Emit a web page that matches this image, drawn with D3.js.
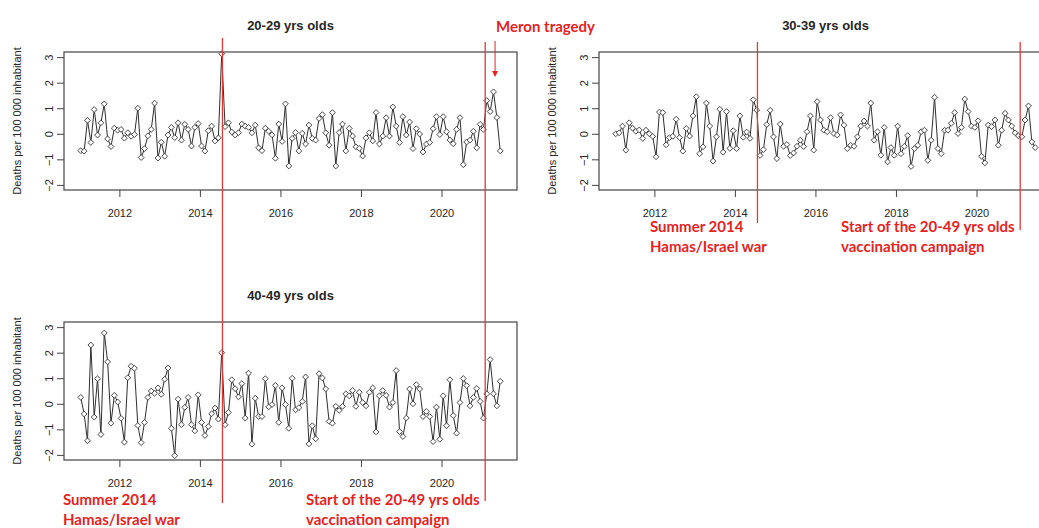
<!DOCTYPE html>
<html>
<head>
<meta charset="utf-8">
<script src="https://cdn.jsdelivr.net/npm/d3@7"></script>
<style>
    body { margin: 0; background: #fff; }
    svg text { font-family: "Liberation Sans", Arial, sans-serif; fill: #262626; }
    svg text.note { font-family: Lato, "Open Sans", sans-serif; font-weight: 700; font-size: 15px; fill: #e5231f; }
</style>
</head>
<body>
<div id="chart"></div>
<script>

// monthly series, Jan 2011 -> Jun 2021 (deaths per 100 000, centred)
const startYear = 2011;

const age2029 = [
    -0.66, -0.68, 0.53, -0.34, 0.95, -0.05, 0.43, 1.17, -0.2, -0.5,
    0.22, 0.14, 0.17, -0.17, 0.04, -0.1, -0.03, 1.0, -0.93, -0.58,
    -0.08, 0.17, 1.2, -0.95, -0.33, -0.88, -0.05, 0.25, -0.15, 0.43,
    -0.25, 0.37, 0.17, -0.48, 0.25, 0.4, -0.48, -0.68, 0.12, 0.3,
    -0.28, -0.16, 3.13, 0.28, 0.43, 0.07, -0.05, 0.04, 0.38, 0.3,
    0.25, 0.04, 0.34, -0.55, -0.66, 0.22, 0.1, -0.04, -0.96, 0.38,
    -0.3, 1.17, -1.26, -0.18, 0.05, -0.67, 0.02, -0.4, 0.34, -0.18,
    -0.25, 0.6, 0.75, 0.04, -0.45, 0.83, -1.26, 0.05, 0.38, -0.67,
    0.21, -0.09, -0.51, -0.57, -0.87, -0.16, 0.04, -0.28, 0.83, -0.4,
    -0.09, 0.63, -0.09, 1.05, 0.3, -0.34, 0.67, -0.05, 0.46, -0.58,
    0.2, -0.01, -0.71, -0.4, -0.34, 0.2, 0.67, -0.03, 0.67, 0.08,
    -0.24, -0.39, 0.17, 0.63, -1.21, -0.32, -0.25, 0.1, -0.55, 0.37,
    0.17, 1.3, 0.87, 1.64, 0.64, -0.67
];

const age3039 = [
    0.0, 0.04, 0.3, -0.64, 0.43, 0.22, 0.1, 0.15, -0.18, 0.14,
    0.0, -0.1, -0.9, 0.85, 0.83, -0.43, -0.15, -0.1, 0.57, -0.15,
    -0.68, 0.21, -0.09, 0.7, 1.45, -0.78, -0.51, 1.2, 0.3, -1.07,
    -0.12, 0.96, -0.72, 0.87, -0.57, 0.12, -0.58, 0.7, -0.14, 0.07,
    -0.18, 1.33, 0.93, -0.85, -0.62, 0.36, 0.92, -0.12, -0.97, 0.38,
    -0.49, -0.42, -0.85, -0.75, -0.49, -0.25, -0.5, 0.08, 0.7, -0.64,
    1.26, 0.54, 0.14, 0.08, 0.63, 0.01, -0.05, 0.74, 0.34, -0.58,
    -0.45, -0.49, -0.12, 0.3, 0.5, 0.3, 1.2, -0.25, 0.08, -0.84,
    0.25, -1.1, -0.54, -0.84, 0.3, -0.78, -0.49, -0.07, -1.28, -0.58,
    -0.45, 0.08, 0.14, -1.04, -0.25, 1.43, -0.58, -0.78, 0.14, 0.14,
    0.41, 0.83, 0.01, 0.25, 1.36, 0.87, 0.3, 0.25, 0.51, -0.88,
    -1.14, 0.34, 0.28, 0.54, -0.45, 0.14, 0.8, 0.54, 0.3, 0.04,
    -0.08, -0.12, 0.54, 1.09, -0.32, -0.54
];

const age4049 = [
    0.25, -0.4, -1.45, 2.3, -0.52, 0.98, -1.2, 2.77, 1.64, -0.76,
    0.33, 0.07, -0.57, -1.5, 1.02, 1.47, 1.39, -0.85, -1.52, -0.73,
    0.25, 0.5, 0.41, 0.62, 0.37, 0.96, 1.4, -0.96, -2.03, 0.18,
    -0.82, -0.14, 0.25, -0.82, -1.06, 0.35, -0.73, -1.24, -0.89, -0.39,
    -0.17, -0.6, 2.0, -0.82, -0.34, 0.94, 0.59, 0.27, 0.79, -0.56,
    1.2, -1.58, 0.22, -0.5, -0.5, 0.98, -0.12, -0.03, 0.72, -0.73,
    0.62, -0.03, -0.96, 1.0, -0.24, -0.15, 0.09, 1.05, -1.57, -0.86,
    -1.37, 1.18, 1.01, 0.58, -0.69, -0.76, -0.1, -0.26, -0.1, 0.39,
    0.31, 0.52, -0.1, 0.45, 0.05, -0.08, 0.45, 0.62, -1.1, 0.31,
    0.52, 0.33, -0.13, 0.05, 1.3, -1.09, -1.28, -0.56, 0.58, 0.0,
    0.75, 0.58, -0.5, -0.3, -0.5, -1.48, -0.13, -1.39, 0.31, -0.86,
    0.94, -0.46, -1.15, 0.05, 0.99, 0.71, -0.08, 0.25, 0.6, 0.09,
    -0.56, 0.39, 1.73, 0.39, -0.08, 0.88
];

const titles = ["20-29 yrs olds", "30-39 yrs olds", "40-49 yrs olds"];
const yTicks = [-2, -1, 0, 1, 2, 3];
const xTicks = [2012, 2014, 2016, 2018, 2020];
const eventYears = [2014.56, 2021.085];   // summer 2014 war, start of vaccination
const meronYear = 2021.33;
const yLabel = "Deaths per 100 000 inhabitant";

// layout
const W = 1039, H = 528;
const boxW = 453, boxH = 138;
const panels = [
    { title: titles[0], values: age2029, left: 64,  top: 52 },
    { title: titles[1], values: age3039, left: 599, top: 52 },
    { title: titles[2], values: age4049, left: 64,  top: 322 }
];

const red = "#e5231f";
const lineRed = "#dc3b3b";

const svg = d3.select("#chart").append("svg")
    .attr("width", W)
    .attr("height", H);

const diamond = "M0,-2.9L2.9,0L0,2.9L-2.9,0Z";

panels.forEach(p => {
    p.x = d3.scaleLinear().domain([2010.625, 2021.875]).range([p.left, p.left + boxW]);
    p.y = d3.scaleLinear().domain([-2.2, 3.2]).range([p.top + boxH, p.top]);

    let g = svg.append("g");
    let pts = p.values.map((v, i) => ({ t: startYear + (i + 0.5) / 12, v: v }));

    // series line + markers
    g.append("path")
        .datum(pts)
        .attr("fill", "none")
        .attr("stroke", "#2e2e2e")
        .attr("stroke-width", 1)
        .attr("d", d3.line().x(d => p.x(d.t)).y(d => p.y(d.v)));

    g.selectAll(".pt")
        .data(pts)
        .join("path")
        .attr("class", "pt")
        .attr("d", diamond)
        .attr("transform", d => "translate(" + p.x(d.t) + "," + p.y(d.v) + ")")
        .attr("fill", "#fff")
        .attr("stroke", "#333")
        .attr("stroke-width", 0.9);

    // box
    g.append("rect")
        .attr("x", p.left)
        .attr("y", p.top)
        .attr("width", boxW)
        .attr("height", boxH)
        .attr("fill", "none")
        .attr("stroke", "#444")
        .attr("stroke-width", 1.2);

    // y axis, R style (labels parallel to axis)
    let yAxis = g.append("g")
        .attr("transform", "translate(" + p.left + ",0)")
        .call(d3.axisLeft(p.y).tickValues(yTicks).tickSize(7).tickSizeOuter(0)
            .tickFormat(d3.format("d")));
    yAxis.select(".domain").remove();
    yAxis.selectAll("line").attr("stroke", "#444");
    yAxis.selectAll("text")
        .attr("x", null).attr("dy", null)
        .attr("text-anchor", "middle")
        .attr("transform", "translate(-11,0) rotate(-90)")
        .style("font-size", "11px")
        .attr("fill", "#262626");

    // x axis
    let xAxis = g.append("g")
        .attr("transform", "translate(0," + (p.top + boxH) + ")")
        .call(d3.axisBottom(p.x).tickValues(xTicks).tickSize(7).tickSizeOuter(0)
            .tickPadding(12).tickFormat(d3.format("d")));
    xAxis.select(".domain").remove();
    xAxis.selectAll("line").attr("stroke", "#444");
    xAxis.selectAll("text")
        .style("font-size", "11px")
        .attr("fill", "#262626");

    g.append("text")
        .attr("transform", "translate(" + (p.left - 43) + "," + (p.top + boxH / 2) + ") rotate(-90)")
        .attr("text-anchor", "middle")
        .style("font-size", "11px")
        .text(yLabel);

    g.append("text")
        .attr("x", p.left + boxW / 2)
        .attr("y", p.top - 22)
        .attr("text-anchor", "middle")
        .style("font-size", "13px")
        .style("font-weight", "bold")
        .attr("fill", "#111")
        .text(p.title);
});

// event lines: left column spans both the 20-29 and 40-49 panels
let pL = panels[0], pR = panels[1];
let evSpans = [[38, 503], [42, 501]];
eventYears.forEach((ev, i) => {
    svg.append("line")
        .attr("x1", pL.x(ev)).attr("x2", pL.x(ev))
        .attr("y1", evSpans[i][0]).attr("y2", evSpans[i][1])
        .attr("stroke", lineRed).attr("stroke-width", 1.3);
    svg.append("line")
        .attr("x1", pR.x(ev)).attr("x2", pR.x(ev))
        .attr("y1", 42).attr("y2", i === 0 ? 223 : 230)
        .attr("stroke", lineRed).attr("stroke-width", 1.3);
});

// Meron arrow
let ax = pL.x(meronYear);
svg.append("line")
    .attr("x1", ax).attr("x2", ax)
    .attr("y1", 41).attr("y2", 72)
    .attr("stroke", lineRed).attr("stroke-width", 1.1);
svg.append("path")
    .attr("d", "M" + (ax - 3) + ",71L" + (ax + 3) + ",71L" + ax + ",77Z")
    .attr("fill", red);

// annotations
const notes = [
    { text: "Meron tragedy", x: 496, y: 32 },
    { text: "Summer 2014", x: 650, y: 232 },
    { text: "Hamas/Israel war", x: 650, y: 252 },
    { text: "Start of the 20-49 yrs olds", x: 841, y: 232 },
    { text: "vaccination campaign", x: 841, y: 252 },
    { text: "Summer 2014", x: 63, y: 505 },
    { text: "Hamas/Israel war", x: 63, y: 525 },
    { text: "Start of the 20-49 yrs olds", x: 306, y: 505 },
    { text: "vaccination campaign", x: 306, y: 525 }
];
svg.selectAll(".note")
    .data(notes)
    .join("text")
    .attr("class", "note")
    .attr("x", d => d.x)
    .attr("y", d => d.y)
    .text(d => d.text);

</script>
</body>
</html>
